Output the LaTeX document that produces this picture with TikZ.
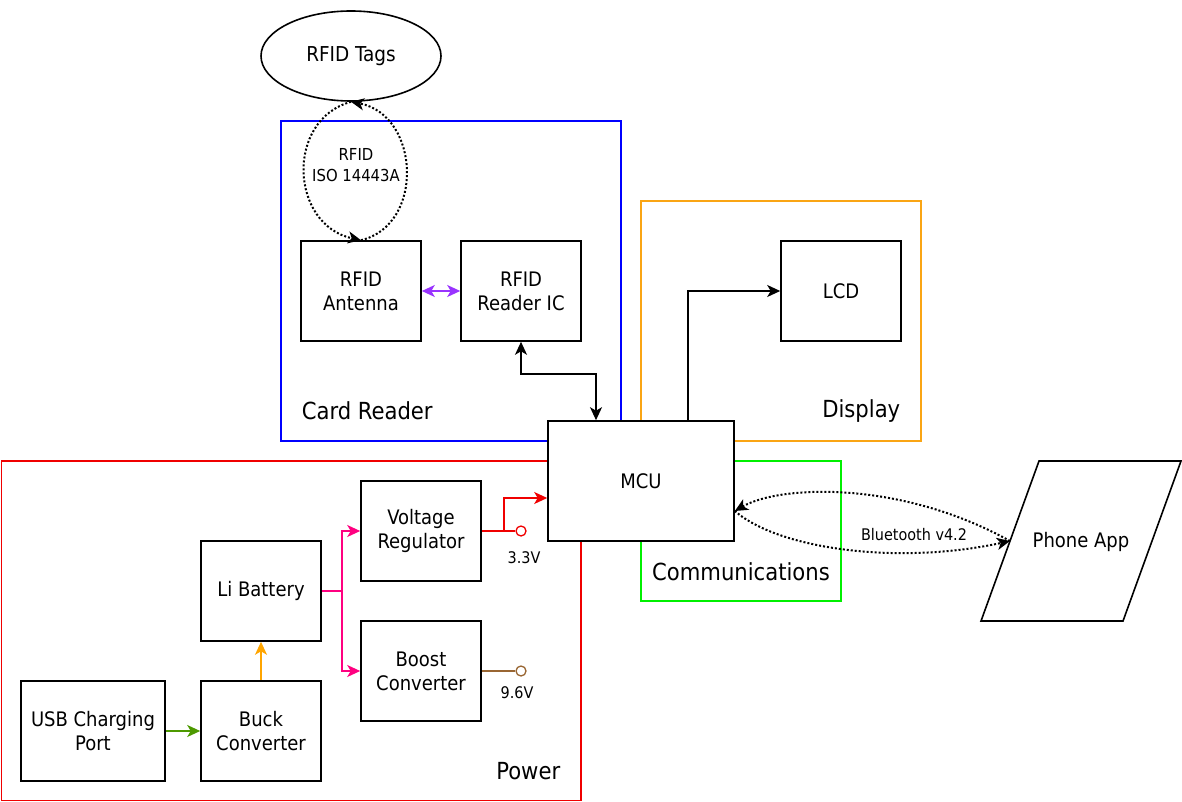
\documentclass[tikz,border=0pt]{standalone}
\usepackage{fontspec}
\setmainfont{DejaVu Sans Condensed}
\usetikzlibrary{shapes.geometric, arrows.meta, calc}

\definecolor{readerblue}{RGB}{0,0,255}
\definecolor{displayorange}{RGB}{250,165,20}
\definecolor{commsgreen}{RGB}{0,240,0}
\definecolor{powerred}{RGB}{240,0,0}
\definecolor{linkpurple}{RGB}{153,51,255}
\definecolor{railpink}{RGB}{255,0,128}
\definecolor{chargeorange}{RGB}{255,165,0}
\definecolor{usbgreen}{RGB}{77,153,0}
\definecolor{boostbrown}{RGB}{153,102,51}

\begin{document}
\begin{tikzpicture}[x=1pt, y=-1pt, line width=1.6pt,
        >={Stealth[length=13pt, width=12pt, inset=3.5pt]},
        block/.style={draw, fill=white, minimum width=120pt, minimum height=100pt,
            align=center, font=\fontsize{20}{24}\selectfont},
        grouplabel/.style={inner sep=0pt, font=\fontsize{23.5}{28}\selectfont},
        smalllabel/.style={align=center, font=\fontsize{16}{21}\selectfont},
        terminal/.style={draw, fill=white, circle, minimum size=10pt, inner sep=0pt, line width=1.3pt},
        radio/.style={line width=2pt, dash pattern=on 2pt off 2pt}]
        \useasboundingbox (0,0) rectangle (1182,802);

        \draw[powerred] (1.5,461) rectangle (581,800.5);
        \draw[readerblue] (281,121) rectangle (621,441);
        \draw[displayorange] (641,201) rectangle (921,441);
        \draw[commsgreen] (641,461) rectangle (841,601);

        \node[grouplabel, anchor=west] at (301,411) {Card Reader};
        \node[grouplabel, anchor=east] at (901,411) {Display};
        \node[grouplabel] at (741,572) {Communications};
        \node[grouplabel, anchor=east] at (561,771) {Power};

        \node[draw, ellipse, minimum width=180pt, minimum height=90pt, inner sep=0pt,
            font=\fontsize{20.5}{24}\selectfont] (tags) at (351,56) {RFID Tags};
        \node[block] (antenna) at (361,291) {RFID\\Antenna};
        \node[block] (reader) at (521,291) {RFID\\Reader IC};
        \node[block] (lcd) at (841,291) {LCD};
        \node[block, minimum width=186pt, minimum height=120pt] (mcu) at (641,481) {MCU};
        \node[block] (regulator) at (421,531) {Voltage\\Regulator};
        \node[block] (battery) at (261,591) {Li Battery};
        \node[block] (boost) at (421,671) {Boost\\Converter};
        \node[block, minimum width=144pt] (usb) at (93,731) {USB Charging\\Port};
        \node[block] (buck) at (261,731) {Buck\\Converter};

        \draw (1039,461) -- (1181,461) -- (1123,621) -- (981,621) -- cycle;
        \node[font=\fontsize{20}{24}\selectfont] (phone) at (1081,542) {Phone App};
        \coordinate (applink) at (1010,541);
        \coordinate (btlink) at ($(mcu.east)+(0,30)$);

        \node[terminal, draw=powerred] (t33) at (521,531) {};
        \node[smalllabel] at (524,558) {3.3V};
        \node[terminal, draw=boostbrown] (t96) at (521,671) {};
        \node[smalllabel] at (517,693) {9.6V};

        \node[smalllabel, font=\fontsize{16.5}{21}\selectfont] at (356,165) {RFID\\ISO 14443A};
        \node[smalllabel] at (914,535) {Bluetooth v4.2};

        \draw[radio, ->] (tags.south) .. controls (285,120) and (290,225) .. (antenna.north);
        \draw[radio, ->] (antenna.north) .. controls (425,225) and (420,115) .. (tags.south);

        \draw[<->, linkpurple] (antenna.east) -- (reader.west);
        \draw[<->] (reader.south) -- (521,374) -| ($(mcu.north)+(-45,0)$);
        \draw[->] ($(mcu.north)+(47,0)$) |- (lcd.west);

        \draw[radio, <-] (btlink) .. controls (780,485) and (900,480) .. (applink);
        \draw[radio, ->] (btlink) .. controls (780,550) and (900,565) .. (applink);

        \draw[powerred] (regulator.east) -- (t33);
        \draw[->, powerred] ($(regulator.east)+(22,0)$) |- ($(mcu.west)+(0,17)$);
        \draw[boostbrown] (boost.east) -- (t96);
        \draw[->, railpink] (battery.east) -- ++(20,0) |- (regulator.west);
        \draw[->, railpink] (battery.east) -- ++(20,0) |- (boost.west);
        \draw[->, chargeorange] (buck.north) -- (battery.south);
        \draw[->, usbgreen] (usb.east) -- (buck.west);
    \end{tikzpicture}
\end{document}
